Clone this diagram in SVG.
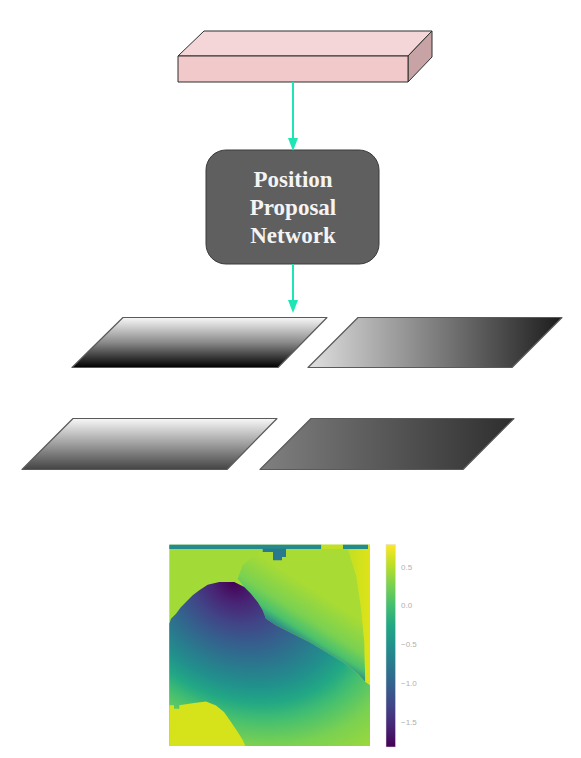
<svg xmlns="http://www.w3.org/2000/svg" width="581" height="758" viewBox="0 0 581 758">
  <style>
    .edge { stroke: #1de6b4; stroke-width: 2; fill: none; }
    .head { fill: #1de6b4; }
    .box { stroke: #2e2e2e; stroke-width: 1; stroke-linejoin: round; }
    .plane { stroke: #5a5a5a; stroke-width: 1.2; stroke-linejoin: round; }
    .title { font-family: "Liberation Serif", "DejaVu Serif", serif; font-weight: bold; font-size: 23px; fill: #f4f4f4; text-anchor: middle; }
    .tick { font-family: "Liberation Sans", Arial, sans-serif; font-size: 8px; fill: #b0b0b0; }
  </style>
  <defs>
    <linearGradient id="gP1" x1="0" y1="0" x2="0" y2="1">
      <stop offset="0" stop-color="#f8f8f8"/>
      <stop offset="0.5" stop-color="#8a8a8a"/>
      <stop offset="1" stop-color="#000000"/>
    </linearGradient>
    <linearGradient id="gP3" x1="0" y1="0" x2="0" y2="1">
      <stop offset="0" stop-color="#f8f8f8"/>
      <stop offset="1" stop-color="#444444"/>
    </linearGradient>
    <linearGradient id="gP2" x1="0" y1="0" x2="1" y2="0">
      <stop offset="0" stop-color="#e0e0e0"/>
      <stop offset="1" stop-color="#1c1c1c"/>
    </linearGradient>
    <linearGradient id="gP4" x1="0" y1="0" x2="1" y2="0">
      <stop offset="0" stop-color="#808080"/>
      <stop offset="1" stop-color="#2e2e2e"/>
    </linearGradient>
    <radialGradient id="gDark" gradientUnits="userSpaceOnUse" cx="233" cy="582" r="190" fx="233" fy="582" gradientTransform="translate(233 582) rotate(38) scale(1.25 1) translate(-233 -582)">
      <stop offset="0" stop-color="#440154"/>
      <stop offset="0.1" stop-color="#482475"/>
      <stop offset="0.2" stop-color="#414487"/>
      <stop offset="0.3" stop-color="#355f8d"/>
      <stop offset="0.4" stop-color="#2a788e"/>
      <stop offset="0.5" stop-color="#21918c"/>
      <stop offset="0.58" stop-color="#22a884"/>
      <stop offset="0.66" stop-color="#44bf70"/>
      <stop offset="0.78" stop-color="#7ad151"/>
      <stop offset="1" stop-color="#b3dd2c"/>
    </radialGradient>
    <linearGradient id="gUpper" gradientUnits="userSpaceOnUse" x1="315" y1="650" x2="342" y2="608">
      <stop offset="0" stop-color="#2c8a8c"/>
      <stop offset="0.18" stop-color="#4ac16d"/>
      <stop offset="0.45" stop-color="#7ad151"/>
      <stop offset="1" stop-color="#a8db34"/>
    </linearGradient>
    <linearGradient id="gYellow" gradientUnits="userSpaceOnUse" x1="350" y1="0" x2="370" y2="0">
      <stop offset="0" stop-color="#c5e021"/>
      <stop offset="1" stop-color="#dfe318"/>
    </linearGradient>
    <linearGradient id="gCbar" x1="0" y1="0" x2="0" y2="1">
      <stop offset="0" stop-color="#fde725"/>
      <stop offset="0.1" stop-color="#bddf26"/>
      <stop offset="0.2" stop-color="#7ad151"/>
      <stop offset="0.3" stop-color="#44bf70"/>
      <stop offset="0.4" stop-color="#22a884"/>
      <stop offset="0.5" stop-color="#21918c"/>
      <stop offset="0.6" stop-color="#2a788e"/>
      <stop offset="0.7" stop-color="#355f8d"/>
      <stop offset="0.8" stop-color="#414487"/>
      <stop offset="0.9" stop-color="#482475"/>
      <stop offset="1" stop-color="#440154"/>
    </linearGradient>
  </defs>

  <rect width="581" height="758" fill="#ffffff"/>

  <g id="input-block">
    <polygon class="box" points="178,56 204,31 432,31 408,56" fill="#f5d6d8"/>
    <polygon class="box" points="408,56 432,31 432,57 408,82" fill="#c8a3a5"/>
    <rect class="box" x="178" y="56" width="230" height="26" fill="#f2c9ca"/>
  </g>

  <g id="position-proposal-network">
    <rect x="206" y="150" width="173" height="114" rx="20" ry="20" fill="#5f5f5f" stroke="#3a3a3a" stroke-width="1"/>
    <text class="title" x="293" y="187">Position</text>
    <text class="title" x="293" y="215">Proposal</text>
    <text class="title" x="293" y="243">Network</text>
  </g>

  <g id="output-maps">
    <polygon class="plane" points="123,317.5 327,317.5 278,367.5 72,367.5" fill="url(#gP1)"/>
    <polygon class="plane" points="358,317.5 562,317.5 512,367.5 308,367.5" fill="url(#gP2)"/>
    <polygon class="plane" points="73,418.5 277,418.5 227,469.5 22,469.5" fill="url(#gP3)"/>
    <polygon class="plane" points="311,418.5 514,418.5 463,469.5 260,469.5" fill="url(#gP4)"/>
  </g>

  <g id="connectors">
    <line class="edge" x1="293" y1="82" x2="293" y2="139"/>
    <polygon class="head" points="288,138 298,138 293,151"/>
    <line class="edge" x1="293" y1="264" x2="293" y2="301"/>
    <polygon class="head" points="288,300 298,300 293,313"/>
  </g>

  <g id="heatmap">
    <rect x="169.3" y="544.7" width="200.7" height="201.3" fill="#a2da37"/>
    <polygon points="262.7,548.7 347.7,548.7 356,575.3 361,608.7 364.3,642 365.3,682 357.7,673.7 342.7,662 326,652 309.3,642 292.7,633.7 276,625.3 266,618.7 262.7,610.3 257.7,602 251,593.7 244.3,587 237.7,578.7 242.7,565.3" fill="url(#gUpper)"/>
    <polygon points="347.7,548.7 370,548.7 370,685.3 365.3,682 364.3,642 361,608.7 356,575.3" fill="url(#gYellow)"/>
    <polygon points="169.3,623.7 171,618.7 176,613.7 181,607 186,602 192.7,595.3 199.3,590.3 207.7,584.7 219.3,582 234.3,582 244.3,587 251,593.7 257.7,602 262.7,610.3 266,618.7 276,625.3 292.7,633.7 309.3,642 326,652 342.7,662 357.7,673.7 365.3,682 370,685.3 370,746 169.3,746" fill="url(#gDark)"/>
    <polygon points="169.3,705.3 174,705.3 174,708.7 179.3,708.7 179.3,705.3 194,703 206,701.5 216,705.5 224,712 231,722 237.7,732 242.7,740 245.3,746 169.3,746" fill="#d6e21a"/>
    <rect x="169.3" y="544.7" width="152" height="4.3" fill="#238a8d"/>
    <rect x="321.3" y="544.7" width="21.7" height="4.3" fill="#c2df23"/>
    <rect x="343" y="544.7" width="25" height="4.3" fill="#238a8d"/>
    <rect x="368" y="544.7" width="2" height="4.3" fill="#dde318"/>
    <polygon points="262.7,548.7 286,548.7 286,557 282,557 282,560.3 273,560.3 273,552 262.7,552" fill="#2a788e"/>
  </g>

  <g id="colorbar">
    <rect x="386" y="544.5" width="9.5" height="202.5" fill="url(#gCbar)" stroke="#dddddd" stroke-width="0.5"/>
    <text class="tick" x="401" y="569.5">0.5</text>
    <text class="tick" x="401" y="608">0.0</text>
    <text class="tick" x="401" y="647">−0.5</text>
    <text class="tick" x="401" y="686">−1.0</text>
    <text class="tick" x="401" y="725">−1.5</text>
  </g>
</svg>
